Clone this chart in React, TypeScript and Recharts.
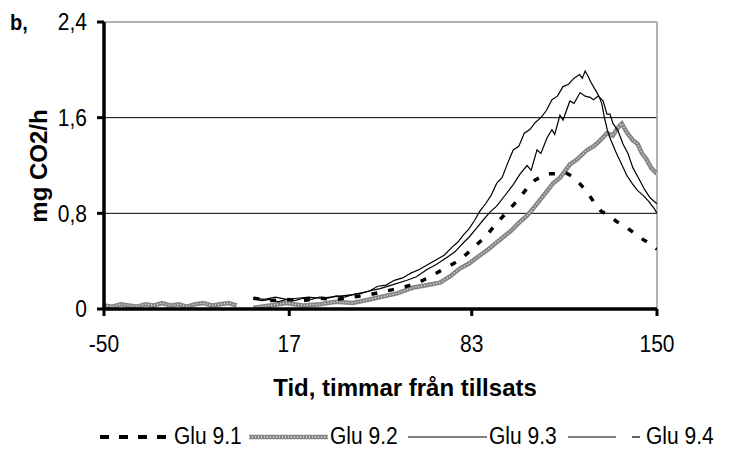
import { LineChart, Line, XAxis, YAxis, ReferenceLine } from 'recharts';

// Tid (timmar från tillsats) och mg CO2/h
const glu91Hours = [4, 10, 16, 22, 28, 34, 40, 46, 52, 58, 63.6, 68, 73.3, 78.8, 83.5, 88.2, 92.1, 96.5, 100, 103, 106, 110.2, 114.2, 117, 119.3, 122, 124.7, 127, 129.7, 132, 135.5, 138, 142, 145, 148.6, 150];
const glu91Values = [0.09, 0.07, 0.08, 0.07, 0.09, 0.08, 0.1, 0.12, 0.15, 0.18, 0.22, 0.27, 0.34, 0.41, 0.51, 0.61, 0.72, 0.83, 0.92, 1.01, 1.08, 1.13, 1.13, 1.14, 1.11, 1.05, 0.98, 0.9, 0.82, 0.79, 0.73, 0.7, 0.63, 0.58, 0.53, 0.5];

const glu92Hours = [-50, -47, -44, -41, -38, -35, -32, -29, -26, -23, -20, -17, -14, -11, -8, -5, -2, 1, 4, 10, 16, 22, 28, 34, 40, 46, 50, 56, 62, 67, 71.5, 75, 78.8, 82, 86, 89, 93.2, 97, 100.5, 103, 105.2, 109, 112.4, 115, 118.5, 121, 124.7, 127, 129, 131.9, 134, 136, 137.3, 139, 141.3, 143, 144.6, 146, 147.9, 150];
const glu92Values = [0.03, 0.02, 0.04, 0.03, 0.02, 0.04, 0.03, 0.05, 0.03, 0.04, 0.02, 0.04, 0.05, 0.03, 0.04, 0.05, 0.03, null, 0.01, 0.03, 0.05, 0.03, 0.04, 0.06, 0.05, 0.08, 0.1, 0.13, 0.18, 0.2, 0.22, 0.27, 0.34, 0.38, 0.45, 0.5, 0.58, 0.65, 0.73, 0.78, 0.84, 0.95, 1.05, 1.1, 1.21, 1.25, 1.33, 1.36, 1.4, 1.47, 1.45, 1.52, 1.55, 1.48, 1.41, 1.38, 1.3, 1.26, 1.18, 1.13];

const glu93Hours = [4, 7, 10, 13, 16, 19, 22, 25, 28, 31, 34, 37, 40, 43, 46, 49, 52, 55, 58, 61, 64, 67, 70, 73, 76, 78, 80, 82, 84, 86, 88, 90, 92, 94, 96, 98, 100, 102, 104, 106, 108, 110, 112, 114, 116, 118, 120, 122, 123, 124, 125, 126, 128, 129, 130, 131, 132, 133, 135, 137, 139, 141, 143, 145, 147, 149, 150];
const glu93Values = [0.09, 0.07, 0.08, 0.06, 0.08, 0.07, 0.09, 0.08, 0.1, 0.09, 0.11, 0.1, 0.12, 0.13, 0.15, 0.19, 0.2, 0.24, 0.26, 0.3, 0.33, 0.37, 0.41, 0.45, 0.52, 0.56, 0.62, 0.67, 0.74, 0.82, 0.88, 0.95, 1.05, 1.1, 1.22, 1.33, 1.36, 1.47, 1.5, 1.56, 1.6, 1.66, 1.75, 1.78, 1.86, 1.88, 1.93, 1.96, 1.93, 1.99, 1.95, 1.9, 1.82, 1.78, 1.72, 1.6, 1.5, 1.43, 1.32, 1.22, 1.12, 1.05, 0.99, 0.95, 0.9, 0.84, 0.8];

const glu94Hours = [4, 8, 12, 16, 20, 24, 28, 32, 36, 40, 44, 49.8, 54, 59.6, 63, 66.8, 70, 74, 77, 79.8, 82, 84.9, 87, 89.6, 92, 95.7, 98, 100.5, 103, 104.5, 106.6, 108, 110.2, 112, 113, 114.9, 116, 118.5, 120, 122.2, 124, 125.8, 127, 128.7, 130.5, 131.9, 133, 134.1, 135.9, 137.7, 139.5, 141.3, 143.9, 145.5, 147.5, 150];
const glu94Values = [0.09, 0.08, 0.1, 0.08, 0.09, 0.1, 0.09, 0.1, 0.11, 0.12, 0.14, 0.17, 0.2, 0.24, 0.27, 0.33, 0.37, 0.43, 0.48, 0.55, 0.6, 0.68, 0.74, 0.81, 0.86, 0.97, 1.04, 1.13, 1.2, 1.16, 1.33, 1.3, 1.43, 1.5, 1.46, 1.62, 1.58, 1.74, 1.72, 1.81, 1.78, 1.77, 1.75, 1.78, 1.74, 1.63, 1.63, 1.55, 1.49, 1.38, 1.3, 1.18, 1.07, 1.0, 0.93, 0.88];

const xTicks = [-50, 17, 83, 150];
const yTicks = [0, 0.8, 1.6, 2.4];

const toRows = (hours: number[], values: (number | null)[]) =>
  hours.map((h, i) => ({ h, v: values[i] }));

const glu91 = toRows(glu91Hours, glu91Values);
const glu92 = toRows(glu92Hours, glu92Values);
const glu93 = toRows(glu93Hours, glu93Values);
const glu94 = toRows(glu94Hours, glu94Values);

const FONT = '"Liberation Sans", Arial, sans-serif';
const STRETCH = 1.13;

const XTick = ({ x, y, payload }: any) => (
  <text
    transform={`translate(${x},${y}) scale(1,${STRETCH})`}
    textAnchor="middle"
    dy="0.71em"
    fontFamily={FONT}
    fontSize={21}
    fill="#000"
  >
    {payload.value}
  </text>
);

const YTick = ({ x, y, payload }: any) => (
  <text
    transform={`translate(${x},${y}) scale(1,${STRETCH})`}
    textAnchor="end"
    dy="0.355em"
    fontFamily={FONT}
    fontSize={21}
    fill="#000"
  >
    {String(payload.value).replace('.', ',')}
  </text>
);

const LegendText = ({ x, label }: { x: number; label: string }) => (
  <text transform={`translate(${x},444) scale(1,${STRETCH})`} fontFamily={FONT} fontSize={21} fill="#000">
    {label}
  </text>
);

const App = () => {
  return (
    <div style={{ position: 'absolute', left: 0, top: 0, width: 733, height: 452, background: '#fff' }}>
      <LineChart width={733} height={452} margin={{ top: 22, right: 76, bottom: 0, left: 0 }}>
        <XAxis
          dataKey="h"
          type="number"
          domain={[-50, 150]}
          ticks={xTicks}
          allowDataOverflow
          height={143}
          tickSize={7}
          tickMargin={19}
          tick={<XTick />}
          axisLine={{ stroke: '#000', strokeWidth: 3.5 }}
          tickLine={{ stroke: '#000', strokeWidth: 3 }}
          label={{
            content: () => (
              <text x={405} y={396} textAnchor="middle" fontFamily={FONT} fontSize={24} fontWeight="bold" fill="#000">
                Tid, timmar från tillsats
              </text>
            ),
          }}
        />
        <YAxis
          type="number"
          domain={[0, 2.4]}
          ticks={yTicks}
          width={104}
          tickSize={7}
          tickMargin={10}
          tick={<YTick />}
          axisLine={{ stroke: '#000', strokeWidth: 3.5 }}
          tickLine={{ stroke: '#000', strokeWidth: 3 }}
          label={{
            content: () => (
              <text
                x={47}
                y={166}
                transform="rotate(-90 47 166)"
                textAnchor="middle"
                fontFamily={FONT}
                fontSize={24}
                fontWeight="bold"
                fill="#000"
              >
                mg CO2/h
              </text>
            ),
          }}
        />
        <ReferenceLine y={0.8} stroke="#000" strokeWidth={1} />
        <ReferenceLine y={1.6} stroke="#000" strokeWidth={1} />
        <ReferenceLine y={2.4} stroke="#999" strokeWidth={1.5} />
        <ReferenceLine x={150} stroke="#999" strokeWidth={1.5} />
        <Line data={glu92} dataKey="v" stroke="#858585" strokeWidth={4.5} dot={false} isAnimationActive={false} connectNulls={false} />
        <Line data={glu92} dataKey="v" stroke="#e8e8e8" strokeWidth={1.3} strokeDasharray="1 2" dot={false} isAnimationActive={false} connectNulls={false} />
        <Line data={glu94} dataKey="v" stroke="#000" strokeWidth={1.2} dot={false} isAnimationActive={false} />
        <Line data={glu93} dataKey="v" stroke="#000" strokeWidth={1.2} dot={false} isAnimationActive={false} />
        <Line data={glu91} dataKey="v" stroke="#000" strokeWidth={3.5} strokeDasharray="6 11" dot={false} isAnimationActive={false} />
      </LineChart>
      <svg width={733} height={452} style={{ position: 'absolute', left: 0, top: 0, pointerEvents: 'none' }}>
        <text transform={`translate(10,30) scale(1,${STRETCH})`} fontFamily={FONT} fontSize={20} fontWeight="bold" fill="#000">
          b,
        </text>
        <line x1={100} y1={437} x2={166} y2={437} stroke="#000" strokeWidth={4} strokeDasharray="9 10" />
        <LegendText x={174} label="Glu 9.1" />
        <line x1={249} y1={437} x2={328} y2={437} stroke="#858585" strokeWidth={4.5} />
        <line x1={249} y1={437} x2={328} y2={437} stroke="#e8e8e8" strokeWidth={1.3} strokeDasharray="1 2" />
        <LegendText x={330} label="Glu 9.2" />
        <line x1={408} y1={437} x2={487} y2={437} stroke="#000" strokeWidth={1.2} />
        <LegendText x={489} label="Glu 9.3" />
        <line x1={568} y1={437} x2={616} y2={437} stroke="#000" strokeWidth={1.2} />
        <line x1={632} y1={437} x2={640} y2={437} stroke="#000" strokeWidth={1.2} />
        <LegendText x={646} label="Glu 9.4" />
      </svg>
    </div>
  );
};

export default App;
